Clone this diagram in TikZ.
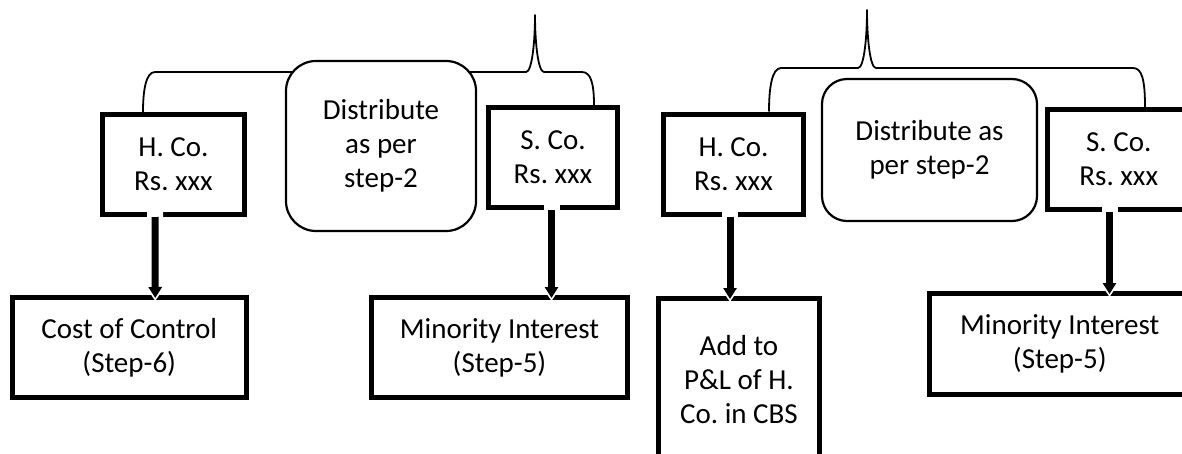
\documentclass[tikz,border=0pt]{standalone}
\usepackage{fontspec}
\setmainfont{Carlito}
\usetikzlibrary{arrows.meta,calc}
\pgfdeclarelayer{back}
\pgfsetlayers{back,main}
\frenchspacing
\begin{document}
\begin{tikzpicture}[x=1pt,y=-1pt,
  txt/.style={align=center, font=\fontsize{29}{34}\selectfont, text=black,
              inner sep=0pt, outer sep=0pt},
  thickbox/.style={txt, draw=black, line width=5pt, fill=white},
  softbox/.style={txt, draw=black, line width=2.2pt, fill=white},
  bracket/.style={draw=black, line width=1.8pt, line join=round},
  conn/.style={black, line width=7pt, -{Triangle[width=13pt,length=11pt]}},
  halo/.style={white, line width=16pt, -{Triangle[width=19pt,length=15pt]}},
]
\useasboundingbox (0,0) rectangle (1182,453);
\clip (0,0) rectangle (1182,453);

% ---- left group ----
\node[thickbox, minimum width=142pt, minimum height=100pt] (h1) at (173.5,164.5) {H. Co.\\Rs. xxx};
\node[softbox, rounded corners=30pt, minimum width=190pt, minimum height=170pt] (d1) at (381,146) {Distribute\\as per\\step-2};
\node[thickbox, minimum width=129pt, minimum height=100pt] (s1) at (553,157.5) {S. Co.\\Rs. xxx};
\node[thickbox, minimum width=234.5pt, minimum height=100pt] (c1) at (129.25,347.5) {Cost of Control\\(Step-6)};
\node[thickbox, minimum width=256pt, minimum height=100pt] (m1) at (499.5,347.5) {Minority Interest\\(Step-5)};

% ---- right group ----
\node[thickbox, minimum width=140pt, minimum height=100pt] (h2) at (733.5,164) {H. Co.\\Rs. xxx};
\node[softbox, rounded corners=25pt, minimum width=215pt, minimum height=142pt] (d2) at (929.5,150) {Distribute as\\per step-2};
\node[thickbox, minimum width=142.5pt, minimum height=99.5pt] (s2) at (1118.75,159.25) {S. Co.\\Rs. xxx};
\node[thickbox, minimum width=161pt, minimum height=163pt] (a2) at (739,380) {Add to\\P\&L of H.\\Co. in CBS};
\node[thickbox, minimum width=260.5pt, minimum height=101pt] (m2) at (1059.75,344) {Minority Interest\\(Step-5)};

% ---- braces joining each pair of companies ----
\coordinate (b1l) at ($(h1.north)+(-30.5,-2.5)$);
\coordinate (b1r) at ($(s1.north)+(41,-2.5)$);
\coordinate (b2l) at ($(h2.north)+(35.5,-2.5)$);
\coordinate (b2r) at ($(s2.north)+(26.25,-2.5)$);
\begin{pgfonlayer}{back}
  \draw[bracket] (b1l) .. controls +(0,-22) and +(-9,0) .. (155,72)
     -- (526,72) .. controls (532,72) and (535,42) .. (535,15)
     .. controls (535,42) and (538,72) .. (544,72)
     -- (582,72) .. controls (591,72) and (594,84) .. (b1r);
  \draw[bracket] (b2l) .. controls +(0,-24) and +(-9,0) .. (781,68)
     -- (858,68) .. controls (864,68) and (867,38) .. (867,10)
     .. controls (867,38) and (870,68) .. (876,68)
     -- (1133,68) .. controls (1142,68) and (1145,80) .. (b2r);
\end{pgfonlayer}

% ---- arrows (white halo first, then the black arrow) ----
\draw[halo] ($(h1.south)+(-18.5,-2.5)$) -- ($(c1.north)+(26,3.5)$);
\draw[conn] ($(h1.south)+(-18.5,2.5)$) -- ($(c1.north)+(26,0.5)$);

\draw[halo] ($(s1.south)+(-1.5,-2.5)$) -- ($(m1.north)+(52,3.5)$);
\draw[conn] ($(s1.south)+(-1.5,2.5)$) -- ($(m1.north)+(52,0.5)$);

\draw[halo] ($(h2.south)+(-3.5,-2.5)$) -- ($(a2.north)+(-9,3.5)$);
\draw[conn] ($(h2.south)+(-3.5,2.5)$) -- ($(a2.north)+(-9,0.5)$);

\draw[halo] ($(s2.south)+(-9.25,-2.5)$) -- ($(m2.north)+(49.75,3.5)$);
\draw[conn] ($(s2.south)+(-9.25,2.5)$) -- ($(m2.north)+(49.75,0.5)$);
\end{tikzpicture}
\end{document}
